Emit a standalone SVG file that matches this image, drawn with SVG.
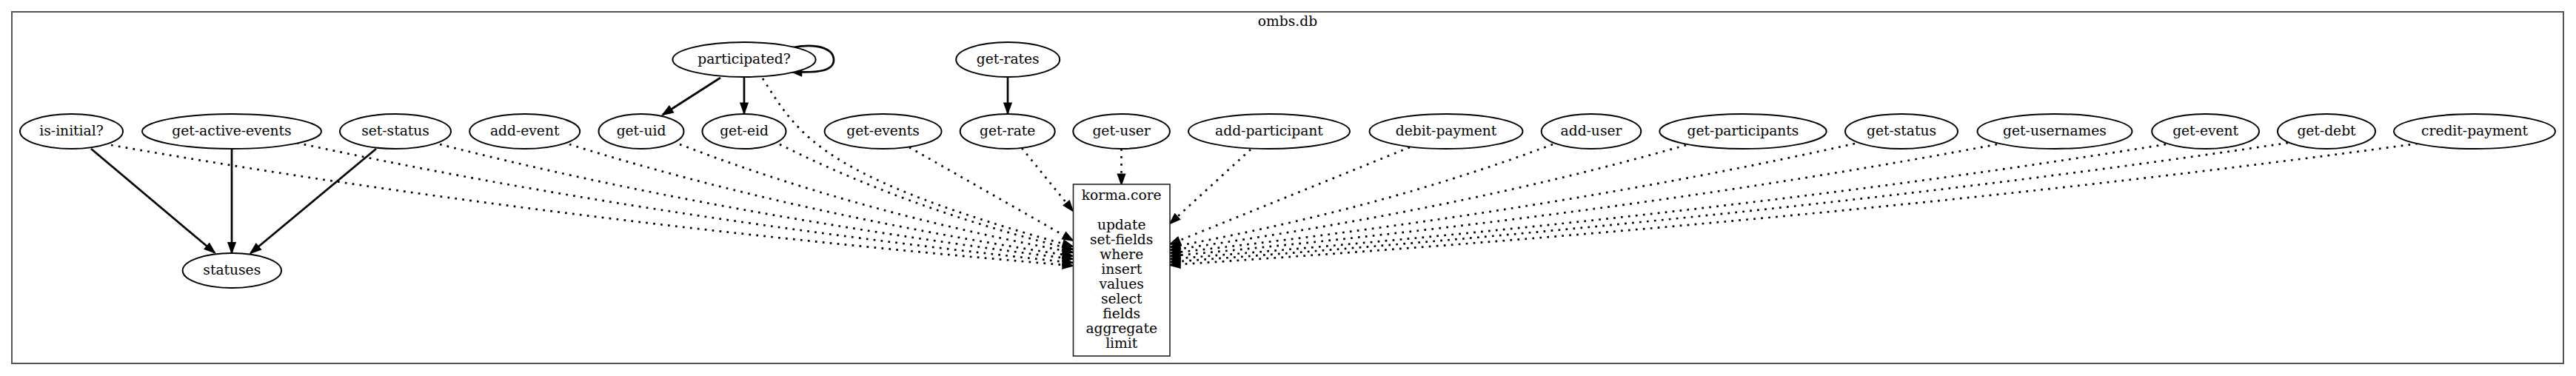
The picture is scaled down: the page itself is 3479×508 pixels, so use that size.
<svg xmlns="http://www.w3.org/2000/svg" width="3479" height="508" viewBox="0 0 3479 508">
<style>
text{font-family:"DejaVu Serif","Liberation Serif",serif;font-size:18.67px;fill:#000;text-anchor:middle}
.n ellipse{fill:#fff;stroke:#000;stroke-width:2}
.c path{fill:none;stroke:#000;stroke-width:2.7}
.c .d{stroke-dasharray:2.7 7.3}
</style>
<defs>
<marker id="ah" markerUnits="userSpaceOnUse" markerWidth="24" markerHeight="16" viewBox="-2 -8 20 16" refX="13.5" refY="0" orient="auto" overflow="visible">
<path d="M0,-4.7 L13,0 L0,4.7 Z" fill="#000" stroke="#000" stroke-width="2" stroke-dasharray="none"/>
</marker>
</defs>
<rect width="3479" height="508" fill="#fff"/>
<g id="cluster_ombs_db">
<rect x="16" y="16" width="3446" height="475" fill="none" stroke="#555" stroke-width="2"/>
<text x="1739" y="35">ombs.db</text>
</g>
<g id="connectors" class="c">
<path class="d" d="M150,196 Q734.6,298.7 1449,359" marker-end="url(#ah)"/>
<path class="d" d="M401,193 Q872.6,295.1 1449,355" marker-end="url(#ah)"/>
<path class="d" d="M594,195 Q978.8,292.7 1449,350" marker-end="url(#ah)"/>
<path class="d" d="M769,195 Q1075,290.1 1449,346" marker-end="url(#ah)"/>
<path class="d" d="M918,195 Q1157,287 1449,341" marker-end="url(#ah)"/>
<path class="d" d="M1053,195 Q1231.2,284.5 1449,337" marker-end="url(#ah)"/>
<path class="d" d="M1030,106 C1080,185 1110,240 1449,333" marker-end="url(#ah)"/>
<path class="d" d="M1228,199 L1449,325" marker-end="url(#ah)"/>
<path class="d" d="M1380,200 L1449,285" marker-end="url(#ah)"/>
<path class="d" d="M1514.5,201 L1514.5,249" marker-end="url(#ah)"/>
<path class="d" d="M1689,202 L1580,302" marker-end="url(#ah)"/>
<path class="d" d="M1904,199 L1580,330" marker-end="url(#ah)"/>
<path class="d" d="M2097,195 Q1864.3,282.6 1580,334" marker-end="url(#ah)"/>
<path class="d" d="M2277,196 Q1963.4,285.5 1580,338" marker-end="url(#ah)"/>
<path class="d" d="M2505,194 Q2088.8,287.2 1580,342" marker-end="url(#ah)"/>
<path class="d" d="M2697,195 Q2194.4,290.1 1580,346" marker-end="url(#ah)"/>
<path class="d" d="M2925,195 Q2319.8,292.7 1580,350" marker-end="url(#ah)"/>
<path class="d" d="M3090,193 Q2410.5,294.4 1580,354" marker-end="url(#ah)"/>
<path class="d" d="M3265,194 Q2506.8,297.3 1580,358" marker-end="url(#ah)"/>
<path d="M123,201 L290,341.5" marker-end="url(#ah)"/>
<path d="M313,201 L313,341.5" marker-end="url(#ah)"/>
<path d="M508,201 L338.5,342" marker-end="url(#ah)"/>
<path d="M973,105 L895,155" marker-end="url(#ah)"/>
<path d="M1005,104.5 L1005,153" marker-end="url(#ah)"/>
<path d="M1361,104.5 L1361,153" marker-end="url(#ah)"/>
<path d="M1071,64 C1105,58 1126,66 1126,81 C1126,95 1108,99 1069,97" marker-end="url(#ah)"/>
</g>
<g id="node_is-initial" class="n"><ellipse cx="96.5" cy="177.5" rx="69.5" ry="23.5"/><text x="96.5" y="183">is-initial?</text></g>
<g id="node_get-active-events" class="n"><ellipse cx="313" cy="177.5" rx="121" ry="23.5"/><text x="313" y="183">get-active-events</text></g>
<g id="node_set-status" class="n"><ellipse cx="534" cy="177.5" rx="75" ry="23.5"/><text x="534" y="183">set-status</text></g>
<g id="node_add-event" class="n"><ellipse cx="708.7" cy="177.5" rx="74.5" ry="23.5"/><text x="708.7" y="183">add-event</text></g>
<g id="node_get-uid" class="n"><ellipse cx="866" cy="177.5" rx="57.5" ry="23.5"/><text x="866" y="183">get-uid</text></g>
<g id="node_get-eid" class="n"><ellipse cx="1005" cy="177.5" rx="56.5" ry="23.5"/><text x="1005" y="183">get-eid</text></g>
<g id="node_get-events" class="n"><ellipse cx="1192.6" cy="177.5" rx="79" ry="23.5"/><text x="1192.6" y="183">get-events</text></g>
<g id="node_get-rate" class="n"><ellipse cx="1360.7" cy="177.5" rx="64" ry="23.5"/><text x="1360.7" y="183">get-rate</text></g>
<g id="node_get-user" class="n"><ellipse cx="1514.6" cy="177.5" rx="65.3" ry="23.5"/><text x="1514.6" y="183">get-user</text></g>
<g id="node_add-participant" class="n"><ellipse cx="1714" cy="177.5" rx="109" ry="23.5"/><text x="1714" y="183">add-participant</text></g>
<g id="node_debit-payment" class="n"><ellipse cx="1953" cy="177.5" rx="103.5" ry="23.5"/><text x="1953" y="183">debit-payment</text></g>
<g id="node_add-user" class="n"><ellipse cx="2149" cy="177.5" rx="67.3" ry="23.5"/><text x="2149" y="183">add-user</text></g>
<g id="node_get-participants" class="n"><ellipse cx="2354" cy="177.5" rx="112.7" ry="23.5"/><text x="2354" y="183">get-participants</text></g>
<g id="node_get-status" class="n"><ellipse cx="2568" cy="177.5" rx="76" ry="23.5"/><text x="2568" y="183">get-status</text></g>
<g id="node_get-usernames" class="n"><ellipse cx="2775" cy="177.5" rx="104.5" ry="23.5"/><text x="2775" y="183">get-usernames</text></g>
<g id="node_get-event" class="n"><ellipse cx="2978.6" cy="177.5" rx="72.4" ry="23.5"/><text x="2978.6" y="183">get-event</text></g>
<g id="node_get-debt" class="n"><ellipse cx="3142" cy="177.5" rx="66" ry="23.5"/><text x="3142" y="183">get-debt</text></g>
<g id="node_credit-payment" class="n"><ellipse cx="3342" cy="177.5" rx="109" ry="23.5"/><text x="3342" y="183">credit-payment</text></g>
<g id="node_participated" class="n"><ellipse cx="1005" cy="80.5" rx="96.6" ry="23.5"/><text x="1005" y="86">participated?</text></g>
<g id="node_get-rates" class="n"><ellipse cx="1361.2" cy="80.5" rx="70" ry="23.5"/><text x="1361.2" y="86">get-rates</text></g>
<g id="node_statuses" class="n"><ellipse cx="313.3" cy="365.5" rx="66.7" ry="23.5"/><text x="313.3" y="371">statuses</text></g>
<g id="node_korma_core">
<rect x="1449.5" y="249" width="130.5" height="232" fill="#fff" stroke="#222" stroke-width="1.6"/>
<text x="1514.7" y="270">korma.core</text>
<text x="1514.7" y="310">update</text>
<text x="1514.7" y="330">set-fields</text>
<text x="1514.7" y="350">where</text>
<text x="1514.7" y="370">insert</text>
<text x="1514.7" y="390">values</text>
<text x="1514.7" y="410">select</text>
<text x="1514.7" y="430">fields</text>
<text x="1514.7" y="450">aggregate</text>
<text x="1514.7" y="470">limit</text>
</g>
</svg>
